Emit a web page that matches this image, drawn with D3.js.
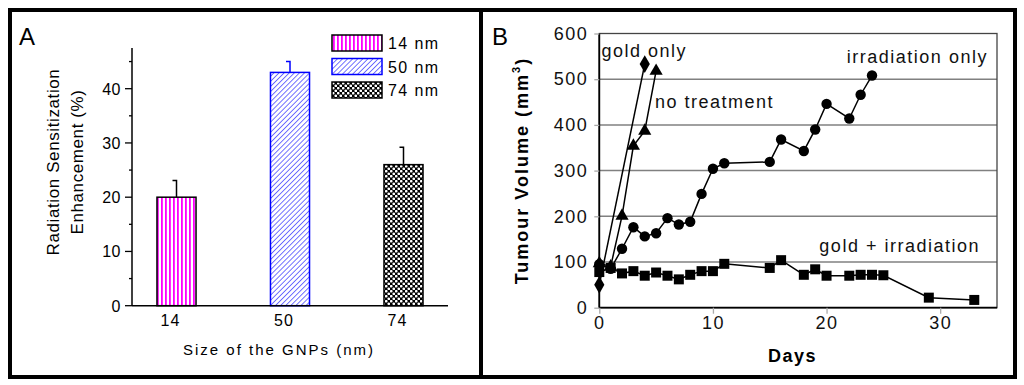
<!DOCTYPE html>
<html>
<head>
<meta charset="utf-8">
<script src="https://cdn.jsdelivr.net/npm/d3@7"></script>
<style>
  body { margin: 0; background: #fff; }
  svg { display: block; font-family: Arial, "Liberation Sans", sans-serif; }
</style>
</head>
<body>
<svg id="chart" width="1024" height="385"></svg>
<script>
// panel A data
var sizes = ["14", "50", "74"];
var enhancement = [20, 43, 26];
var enhancementErr = [3.1, 2.0, 3.2];
var legendLabels = ["14 nm", "50 nm", "74 nm"];
var yTicksA = [0, 10, 20, 30, 40];

// panel B data (day, tumour volume mm3)
var goldOnly = [[0, 50], [4, 533]];
var noTreatment = [[0, 97], [1, 90], [2, 201], [3, 354], [4, 387], [5, 518]];
var irradiationOnly = [[0, 95], [1, 85], [2, 129], [3, 176], [4, 156], [5, 163], [6, 196], [7, 182],
  [8, 188], [9, 249], [10, 304], [11, 316], [15, 319], [16, 368], [18, 343], [19, 390], [20, 446],
  [22, 414], [23, 466], [24, 508]];
var goldIrradiation = [[0, 78], [1, 87], [2, 75], [3, 80], [4, 70], [5, 77], [6, 70], [7, 62], [8, 72],
  [9, 80], [10, 80], [11, 96], [15, 87], [16, 104], [18, 72], [19, 84], [20, 70], [22, 70], [23, 72],
  [24, 72], [25, 71], [29, 22], [33, 17]];
var xTicksB = [0, 10, 20, 30];
var yTicksB = [0, 100, 200, 300, 400, 500, 600];

var svg = d3.select("#chart");

// hatch patterns for the bars
var defs = svg.append("defs");
var pv = defs.append("pattern").attr("id", "pVert").attr("patternUnits", "userSpaceOnUse")
  .attr("width", 4).attr("height", 4);
pv.append("rect").attr("width", 4).attr("height", 4).attr("fill", "#fff");
pv.append("rect").attr("x", 1).attr("width", 1.8).attr("height", 4).attr("fill", "#f0f");

var pd = defs.append("pattern").attr("id", "pDiag").attr("patternUnits", "userSpaceOnUse")
  .attr("width", 3.6).attr("height", 3.6).attr("patternTransform", "rotate(45)");
pd.append("rect").attr("width", 3.6).attr("height", 3.6).attr("fill", "#fff");
pd.append("line").attr("x1", 0).attr("y1", 0).attr("x2", 0).attr("y2", 3.6)
  .attr("stroke", "#00f").attr("stroke-width", 1.1);

var pc = defs.append("pattern").attr("id", "pCheck").attr("patternUnits", "userSpaceOnUse")
  .attr("width", 5).attr("height", 5);
pc.append("rect").attr("width", 5).attr("height", 5).attr("fill", "#000");
pc.append("circle").attr("cx", 1.25).attr("cy", 1.25).attr("r", 1.35).attr("fill", "#fff");
pc.append("circle").attr("cx", 3.75).attr("cy", 3.75).attr("r", 1.35).attr("fill", "#fff");

var fills = ["url(#pVert)", "url(#pDiag)", "url(#pCheck)"];
var strokes = ["#000", "#00f", "#000"];

// ---------- panel A ----------
var xA = d3.scaleBand().domain(sizes).range([119.75, 460.25])
  .paddingInner(0.656).paddingOuter(0.328);
var yA = d3.scaleLinear().domain([0, 47.5]).range([305.7, 48]);

var gA = svg.append("g");

gA.selectAll(".bar").data(sizes).enter().append("rect")
  .attr("x", function(d) { return xA(d); })
  .attr("y", function(d, i) { return yA(enhancement[i]); })
  .attr("width", xA.bandwidth())
  .attr("height", function(d, i) { return yA(0) - yA(enhancement[i]); })
  .attr("fill", function(d, i) { return fills[i]; })
  .attr("stroke", function(d, i) { return strokes[i]; })
  .attr("stroke-width", 1.5);

// one sided error bars with a small cap
sizes.forEach(function(d, i) {
  var cx = xA(d) + xA.bandwidth() / 2;
  var y0 = yA(enhancement[i]), y1 = yA(enhancement[i] + enhancementErr[i]);
  gA.append("path")
    .attr("d", "M" + cx + "," + y0 + "V" + y1 + "H" + (cx - 4))
    .attr("fill", "none").attr("stroke", strokes[i]).attr("stroke-width", 1.5);
});

// axes
gA.append("line").attr("x1", 132).attr("x2", 448).attr("y1", yA(0)).attr("y2", yA(0))
  .attr("stroke", "#000").attr("stroke-width", 1.5);
gA.append("line").attr("x1", 132).attr("x2", 132).attr("y1", yA(0)).attr("y2", yA.range()[1])
  .attr("stroke", "#000").attr("stroke-width", 1.5);
gA.selectAll(".tk").data(d3.range(0, 46, 5)).enter().append("line")
  .attr("x1", function(d) { return d % 10 === 0 ? 125 : 129; }).attr("x2", 132)
  .attr("y1", function(d) { return yA(d); }).attr("y2", function(d) { return yA(d); })
  .attr("stroke", "#000").attr("stroke-width", 1.3);
gA.selectAll(".tl").data(yTicksA).enter().append("text")
  .attr("x", 121).attr("y", function(d) { return yA(d) + 6; })
  .attr("text-anchor", "end").attr("font-size", 16).attr("letter-spacing", 0.5)
  .text(function(d) { return d; });
gA.selectAll(".xl").data(sizes).enter().append("text")
  .attr("x", function(d) { return xA(d) + xA.bandwidth() / 2 - 6; }).attr("y", 326)
  .attr("text-anchor", "middle").attr("font-size", 16).attr("letter-spacing", 1)
  .text(function(d) { return d; });
gA.append("text").attr("x", 279).attr("y", 355).attr("text-anchor", "middle")
  .attr("font-size", 15).attr("letter-spacing", 2).text("Size of the GNPs (nm)");
var ylab = gA.append("text").attr("transform", "translate(59,162) rotate(-90)")
  .attr("text-anchor", "middle").attr("font-size", 17).attr("letter-spacing", 0.6);
ylab.append("tspan").attr("x", 0).attr("dy", 0).text("Radiation Sensitization");
ylab.append("tspan").attr("x", 0).attr("dy", 24).text("Enhancement (%)");

// legend
var leg = gA.selectAll(".leg").data(legendLabels).enter().append("g")
  .attr("transform", function(d, i) { return "translate(332," + (35 + i * 23.5) + ")"; });
leg.append("rect").attr("width", 50).attr("height", 16)
  .attr("fill", function(d, i) { return fills[i]; })
  .attr("stroke", function(d, i) { return strokes[i]; }).attr("stroke-width", 1.5);
leg.append("text").attr("x", 56).attr("y", 14).attr("font-size", 16).attr("letter-spacing", 1.4)
  .text(function(d) { return d; });

gA.append("text").attr("x", 19).attr("y", 45).attr("font-size", 24).text("A");

// ---------- panel B ----------
var xB = d3.scaleLinear().domain([0, 35]).range([599.3, 997]);
var yB = d3.scaleLinear().domain([0, 600]).range([307.7, 33.5]);
var gB = svg.append("g");

gB.selectAll(".grid").data(yTicksB.slice(1, -1)).enter().append("line")
  .attr("x1", xB(0)).attr("x2", xB(35))
  .attr("y1", function(d) { return yB(d); }).attr("y2", function(d) { return yB(d); })
  .attr("stroke", "#808080").attr("stroke-width", 1.5);
gB.append("rect").attr("x", xB(0)).attr("y", yB(600))
  .attr("width", xB(35) - xB(0)).attr("height", yB(0) - yB(600))
  .attr("fill", "none").attr("stroke", "#444").attr("stroke-width", 1.3);

var axB = gB.append("g").attr("transform", "translate(0," + yB(0) + ")")
  .call(d3.axisBottom(xB).tickValues(xTicksB).tickSize(6).tickPadding(3));
var ayB = gB.append("g").attr("transform", "translate(" + xB(0) + ",0)")
  .call(d3.axisLeft(yB).tickValues(yTicksB).tickSize(5).tickPadding(6));
[axB, ayB].forEach(function(ax) {
  ax.select(".domain").attr("stroke", "#000").attr("stroke-width", 1.8);
  ax.selectAll(".tick line").attr("stroke", "#aaa").attr("stroke-width", 1.3);
  ax.selectAll(".tick text").attr("font-size", 18).attr("letter-spacing", 1.5)
    .attr("font-family", "Arial, 'Liberation Sans', sans-serif").attr("fill", "#111");
});
axB.select(".domain").attr("d", "M" + xB(0) + ",0H" + xB(35));
ayB.select(".domain").attr("d", "M0," + yB(0) + "V" + yB(600));

gB.append("text").attr("x", xB(17)).attr("y", 362).attr("text-anchor", "middle")
  .attr("font-size", 18).attr("font-weight", "bold").attr("letter-spacing", 1.5).text("Days");
var ylB = gB.append("text").attr("transform", "translate(528," + ((yB(0) + yB(600)) / 2) + ") rotate(-90)")
  .attr("text-anchor", "middle").attr("font-size", 18).attr("font-weight", "bold").attr("letter-spacing", 2);
ylB.append("tspan").text("Tumour Volume (mm");
ylB.append("tspan").attr("font-size", 11).attr("dy", -8).text("3");
ylB.append("tspan").attr("dy", 8).text(")");

var line = d3.line().x(function(d) { return xB(d[0]); }).y(function(d) { return yB(d[1]); });
var series = [
  { data: goldIrradiation, symbol: d3.symbolSquare, size: 100 },
  { data: irradiationOnly, symbol: d3.symbolCircle, size: 85 },
  { data: noTreatment, symbol: d3.symbolTriangle, size: 75 },
  { data: goldOnly, symbol: d3.symbolDiamond, size: 90 }
];
series.forEach(function(s) {
  gB.append("path").datum(s.data).attr("d", line)
    .attr("fill", "none").attr("stroke", "#000").attr("stroke-width", 1.5);
  gB.selectAll(null).data(s.data).enter().append("path")
    .attr("transform", function(d) { return "translate(" + xB(d[0]) + "," + yB(d[1]) + ")"; })
    .attr("d", d3.symbol().type(s.symbol).size(s.size))
    .attr("fill", "#000");
});

var notes = [
  { t: "gold only", x: 0.2, y: 549, a: "start" },
  { t: "no treatment", x: 4.9, y: 437, a: "start" },
  { t: "irradiation only", x: 34.2, y: 535, a: "end" },
  { t: "gold + irradiation", x: 33.5, y: 122, a: "end" }
];
gB.selectAll(".note").data(notes).enter().append("text")
  .attr("x", function(d) { return xB(d.x); }).attr("y", function(d) { return yB(d.y); })
  .attr("text-anchor", function(d) { return d.a; })
  .attr("font-size", 18).attr("letter-spacing", 1.5).attr("fill", "#111")
  .text(function(d) { return d.t; });

gB.append("text").attr("x", 492).attr("y", 45).attr("font-size", 24).text("B");

// outer frame and divider
svg.append("rect").attr("x", 10).attr("y", 10).attr("width", 1005).attr("height", 367)
  .attr("fill", "none").attr("stroke", "#000").attr("stroke-width", 4);
svg.append("line").attr("x1", 481).attr("x2", 481).attr("y1", 10).attr("y2", 377)
  .attr("stroke", "#000").attr("stroke-width", 4);
</script>
</body>
</html>
